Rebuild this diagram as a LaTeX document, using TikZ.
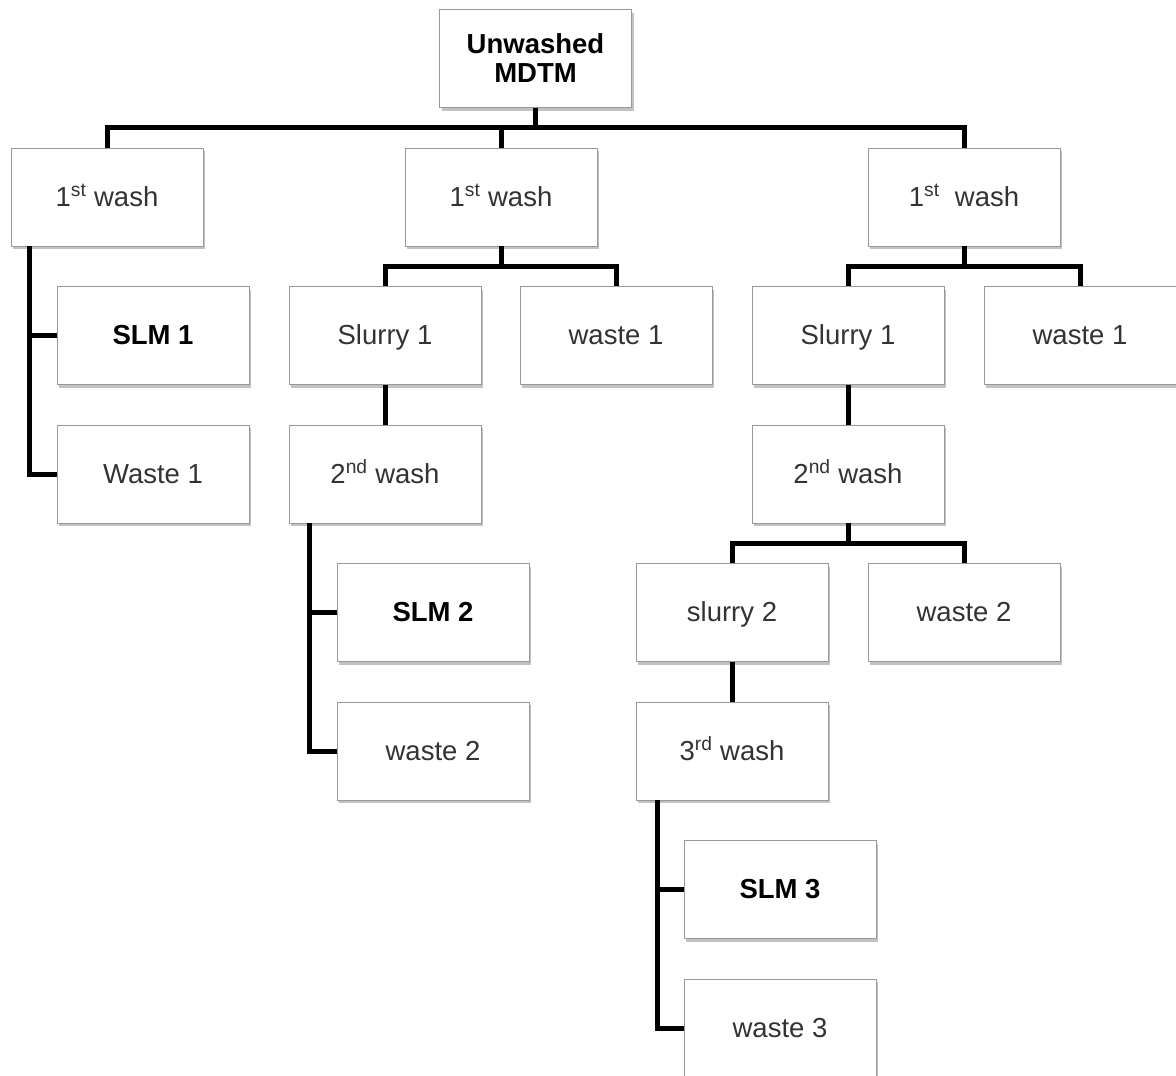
\documentclass[tikz,border=0pt]{standalone}
\usepackage{fontspec}
\setmainfont{Liberation Sans}
\usetikzlibrary{shadows}
\tikzset{%
            base/.style = {rectangle, draw=black!40, fill=white,
                           minimum width=192pt, minimum height=98pt,
                           text centered, font=\fontsize{27.5}{29}\selectfont,
                           drop shadow={shadow xshift=2pt, shadow yshift=-3pt,
                                        opacity=0.4, fill=black!60}},
  box0/.style = {base, text=black, font=\fontsize{27.5}{29}\selectfont\bfseries, align=center},
  box1/.style = {base, text=black!80, align=center, text height=22pt, text depth=4pt},
  link/.style = {line width=5pt, black},
}

\begin{document}
\begin{tikzpicture}[node distance=138.5pt, align=center]
  \useasboundingbox (0,0) rectangle (1176pt,-1076pt);

  \node (onTop)        [box0] at (535.5pt,-58.5pt)              {Unwashed\\MDTM};
  \node (onWashA)      [box1, below of=onTop, xshift=-428.5pt]  {1\textsuperscript{st} wash};
  \node (onWashB)      [box1, below of=onTop, xshift=-34.5pt]   {1\textsuperscript{st} wash};
  \node (onWashC)      [box1, below of=onTop, xshift= 428.5pt]  {1\textsuperscript{st}\ \ wash};

  \node (onSLMa)       [box0, below of=onWashA, xshift=46pt]    {SLM 1};
  \node (onWasteA)     [box1, below of=onSLMa]                  {Waste 1};

  \node (onSlurryB)    [box1, below of=onWashB, xshift=-116pt]  {Slurry 1};
  \node (onWasteB)     [box1, below of=onWashB, xshift= 115pt]  {waste 1};
  \node (onSecondB)    [box1, below of=onSlurryB]               {2\textsuperscript{nd} wash};
  \node (onSLMb)       [box0, below of=onSecondB, xshift=48pt]  {SLM 2};
  \node (onWasteBtwo)  [box1, below of=onSLMb]                  {waste 2};

  \node (onSlurryC)    [box1, below of=onWashC, xshift=-116pt]  {Slurry 1};
  \node (onWasteC)     [box1, below of=onWashC, xshift= 116pt]  {waste 1};
  \node (onSecondC)    [box1, below of=onSlurryC]               {2\textsuperscript{nd} wash};
  \node (onSlurryCtwo) [box1, below of=onSecondC, xshift=-116pt] {slurry 2};
  \node (onWasteCtwo)  [box1, below of=onSecondC, xshift= 116pt] {waste 2};
  \node (onThirdC)     [box1, below of=onSlurryCtwo]            {3\textsuperscript{rd} wash};
  \node (onSLMc)       [box0, below of=onThirdC, xshift=48pt]   {SLM 3};
  \node (onWasteCthree)[box1, below of=onSLMc]                  {waste 3};

  % first level
  \draw[link] (onTop.south) -- ++(0,-20pt) -| (onWashA.north);
  \draw[link] (onTop.south) -- ++(0,-20pt) -| (onWashB.north);
  \draw[link] (onTop.south) -- ++(0,-20pt) -| (onWashC.north);

  % left branch
  \draw[link] ([xshift=19pt]onWashA.south west) |- (onSLMa.west);
  \draw[link] ([xshift=19pt]onWashA.south west) |- (onWasteA.west);

  % middle branch
  \draw[link] (onWashB.south) -- ++(0,-20pt) -| (onSlurryB.north);
  \draw[link] (onWashB.south) -- ++(0,-20pt) -| (onWasteB.north);
  \draw[link] (onSlurryB) -- (onSecondB);
  \draw[link] ([xshift=21pt]onSecondB.south west) |- (onSLMb.west);
  \draw[link] ([xshift=21pt]onSecondB.south west) |- (onWasteBtwo.west);

  % right branch
  \draw[link] (onWashC.south) -- ++(0,-20pt) -| (onSlurryC.north);
  \draw[link] (onWashC.south) -- ++(0,-20pt) -| (onWasteC.north);
  \draw[link] (onSlurryC) -- (onSecondC);
  \draw[link] (onSecondC.south) -- ++(0,-20pt) -| (onSlurryCtwo.north);
  \draw[link] (onSecondC.south) -- ++(0,-20pt) -| (onWasteCtwo.north);
  \draw[link] (onSlurryCtwo) -- (onThirdC);
  \draw[link] ([xshift=22pt]onThirdC.south west) |- (onSLMc.west);
  \draw[link] ([xshift=22pt]onThirdC.south west) |- (onWasteCthree.west);
\end{tikzpicture}
\end{document}
